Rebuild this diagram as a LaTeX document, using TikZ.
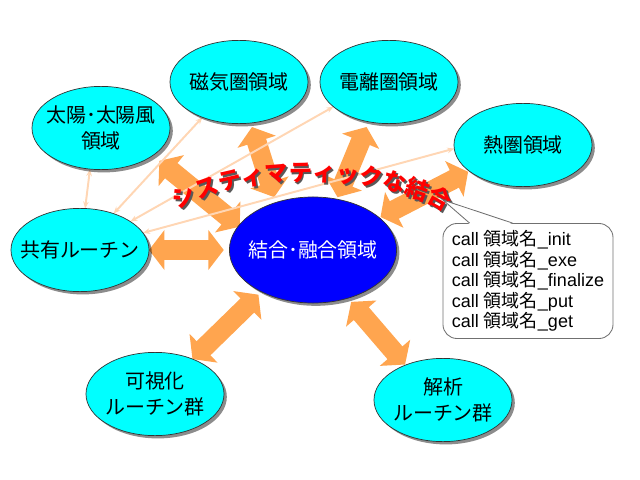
\documentclass[tikz,border=0pt]{standalone}
\usepackage{fontspec}
\setmainfont{Liberation Sans}
\newfontfamily\jpfont{Noto Sans CJK JP}
\usetikzlibrary{positioning,arrows.meta,calc,shapes.geometric,shadows,backgrounds,decorations.text}
\definecolor{mizuiro}{HTML}{00FFFF}
\definecolor{ao}{HTML}{0000FF}
\definecolor{daidai}{HTML}{FFA54F}
\definecolor{usudaidai}{HTML}{FFD6B4}
\definecolor{aka}{HTML}{FF0000}
\definecolor{sumi}{HTML}{333333}
\definecolor{hai}{HTML}{707070}

\begin{document}
\begin{tikzpicture}[x=0.025cm, y=-0.025cm,
    ryoiki/.style={ellipse, draw=sumi, line width=0.5pt, fill=mizuiro,
      inner sep=0pt, outer sep=0pt, minimum width=3.45cm, minimum height=2.08cm,
      drop shadow={shadow xshift=2pt, shadow yshift=-2pt, opacity=0.45, fill=black}},
    chuo/.style={ryoiki, fill=ao, minimum width=4.18cm, minimum height=2.65cm},
    namae/.style={font=\jpfont\fontsize{14.2pt}{18pt}\selectfont, align=center, inner sep=0pt},
    futoya/.style={daidai, line width=14pt,
      {Triangle[width=28pt,length=11pt]}-{Triangle[width=28pt,length=11pt]}},
    hosoya/.style={usudaidai, line width=1.4pt,
      {Stealth[length=5pt,width=4pt]}-{Stealth[length=5pt,width=4pt]}},
    fukidashi/.style={draw=hai, fill=white, rounded corners=10pt, line width=0.6pt,
      minimum width=4.25cm, minimum height=2.875cm, align=left,
      font=\fontsize{12.8pt}{14.5pt}\selectfont}]
  \useasboundingbox (0,0) rectangle (640,480);

  \node[ryoiki, label={[namae]center:{太陽･太陽風\\領域}}] (taiyo) at (101,128) {};
  \node[ryoiki, label={[namae]center:磁気圏領域}] (jiki) at (239,82) {};
  \node[ryoiki, label={[namae]center:電離圏領域}] (denri) at (389,82) {};
  \node[ryoiki, label={[namae]center:熱圏領域}] (netsu) at (523,145) {};
  \node[ryoiki, label={[namae]center:共有ルーチン}] (kyoyu) at (80,250) {};
  \node[chuo, label={[namae,text=white]center:結合･融合領域}] (ketsugo) at (313,250) {};
  \node[ryoiki, label={[namae]center:{可視化\\ルーチン群}}] (kashika) at (155,394) {};
  \node[ryoiki, label={[namae]center:{解析\\ルーチン群}}] (kaiseki) at (443,400) {};

  \begin{scope}[on background layer]
    \foreach \a/\b/\s/\t in {taiyo.-28/ketsugo.162/6pt/-1pt, jiki.-74/ketsugo.128/3pt/4pt,
        denri.-117/ketsugo.65/4pt/1.5pt, netsu.-154/ketsugo.26/1pt/1pt,
        kyoyu.east/ketsugo.west/0pt/4pt, kashika.43/ketsugo.-141/0pt/3pt,
        kaiseki.137/ketsugo.-54/0.5pt/3.5pt}
      \draw[futoya, shorten <=\s, shorten >=\t] (\a) -- (\b);
    \foreach \b in {taiyo.-105, jiki.-136, denri.-156, netsu.183}
      \draw[hosoya] (kyoyu) -- (\b);
  \end{scope}

  \path[xshift=1.4pt, yshift=-1.4pt, decorate, decoration={text along path, text align=center,
      text={|\jpfont\bfseries\fontsize{16.5pt}{16.5pt}\selectfont\color{black!65}|システィマティックな結合}}]
    (176,212) .. controls (232,170) and (388,170) .. (448,214);
  \path[decorate, decoration={text along path, text align=center,
      text={|\jpfont\bfseries\fontsize{16.5pt}{16.5pt}\selectfont\color{aka}|システィマティックな結合}}]
    (176,212) .. controls (232,170) and (388,170) .. (448,214);

  \node[fukidashi] (yobi) at (528,281) {call {\jpfont 領域名}\_init\\call {\jpfont 領域名}\_exe\\
    call {\jpfont 領域名}\_finalize\\call {\jpfont 領域名}\_put\\call {\jpfont 領域名}\_get};
  \coordinate (saki) at (443,200);
  \fill[white] ($(yobi.north west)+(27,1)$) -- (saki) -- ($(yobi.north west)+(70,1)$) -- cycle;
  \draw[hai, line width=0.6pt] ($(yobi.north west)+(27,0)$) -- (saki) -- ($(yobi.north west)+(70,0)$);
\end{tikzpicture}
\end{document}
